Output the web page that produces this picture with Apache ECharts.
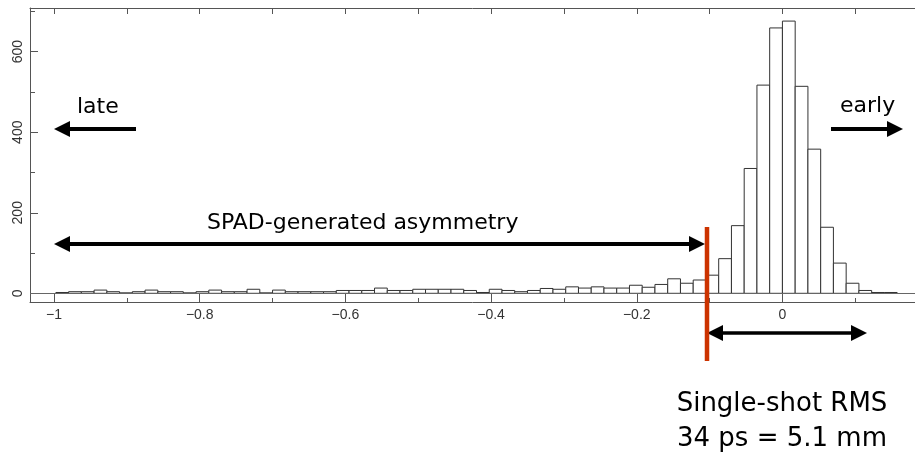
<!DOCTYPE html>
<html>
<head>
<meta charset="utf-8">
<title>SPAD timing histogram</title>
<script src="https://cdn.jsdelivr.net/npm/echarts@6/dist/echarts.min.js"></script>
<style>
  html, body { margin: 0; padding: 0; background: #fff; }
  #chart { width: 915px; height: 452px; }
</style>
</head>
<body>
<div id="chart"></div>
<script>
// counts per bin, left to right
const counts = [
  2, 4, 4, 8, 4, 1, 4, 8, 4, 4,
  1, 4, 8, 4, 4, 10, 1, 8, 4, 4,
  4, 4, 7, 7, 7, 13, 7, 7, 10, 10,
  10, 10, 7, 2, 10, 7, 4, 7, 12, 10,
  16, 13, 16, 13, 13, 20, 15, 22, 36, 25,
  33, 45, 86, 168, 310, 517, 659, 676, 514, 358,
  164, 75, 25, 7, 2, 2
];
const binStart = -0.9975;
const binWidth = 0.0175;

const xMajorTicks = [-1, -0.8, -0.6, -0.4, -0.2, 0];
const xMinorTicks = [-0.9, -0.7, -0.5, -0.3, -0.1, 0.1];
const yMajorTicks = [0, 200, 400, 600];
const yMinorTicks = [100, 300, 500, 700];

const AXIS_COLOR = '#555';
const RED = '#cc3300';
const X_MIN = -1.033, X_MAX = 0.182;
const Y_MIN = -21.6, Y_MAX = 708.5;

const rows = counts.map((c, i) => [binStart + i * binWidth, binStart + (i + 1) * binWidth, c]);

function xAxisBase(pos) {
  return {
    type: 'value', position: pos, min: X_MIN, max: X_MAX,
    axisLine: { show: false, onZero: false, lineStyle: { color: AXIS_COLOR, width: 1 } },
    axisTick: { show: false },
    axisLabel: { show: false },
    splitLine: { show: false }
  };
}
function yAxisBase() {
  return {
    type: 'value', position: 'left', min: Y_MIN, max: Y_MAX,
    axisLine: { show: false, onZero: false, lineStyle: { color: AXIS_COLOR, width: 1 } },
    axisTick: { show: false },
    axisLabel: { show: false },
    splitLine: { show: false }
  };
}

const xMain = xAxisBase('bottom');
xMain.axisLine.show = true;
xMain.axisTick = { show: true, inside: true, length: 8, customValues: xMajorTicks, lineStyle: { color: AXIS_COLOR } };
xMain.axisLabel = {
  show: true, customValues: xMajorTicks, margin: 6,
  fontSize: 14, fontFamily: 'Liberation Sans', color: '#333',
  formatter: v => String(v).replace('-', '\u2212')
};

const xMinor = xAxisBase('bottom');
xMinor.axisTick = { show: true, inside: true, length: 4, customValues: xMinorTicks, lineStyle: { color: AXIS_COLOR } };

const xTop = xAxisBase('top');
xTop.axisLine.show = true;
xTop.axisTick = { show: true, inside: true, length: 6, customValues: xMajorTicks.concat(xMinorTicks), lineStyle: { color: AXIS_COLOR } };

const yMain = yAxisBase();
yMain.axisLine.show = true;
yMain.axisTick = { show: true, inside: true, length: 8, customValues: yMajorTicks, lineStyle: { color: AXIS_COLOR } };
yMain.axisLabel = {
  show: true, customValues: yMajorTicks, rotate: 90, margin: 5,
  fontSize: 14, fontFamily: 'Liberation Sans', color: '#333'
};

const yMinor = yAxisBase();
yMinor.axisTick = { show: true, inside: true, length: 5, customValues: yMinorTicks, lineStyle: { color: AXIS_COLOR } };

// horizontal arrow, tip(s) drawn as filled triangles
function arrow(x1, x2, y, heads, width) {
  const len = 16, half = 8;
  const dir = x2 > x1 ? 1 : -1;
  const els = [];
  let a = x1, b = x2;
  if (heads === 'start' || heads === 'both') {
    els.push({ type: 'polygon', shape: { points: [[x1, y], [x1 + dir * len, y - half], [x1 + dir * len, y + half]] }, style: { fill: '#000' }, z: 10 });
    a = x1 + dir * (len - 2);
  }
  if (heads === 'end' || heads === 'both') {
    els.push({ type: 'polygon', shape: { points: [[x2, y], [x2 - dir * len, y - half], [x2 - dir * len, y + half]] }, style: { fill: '#000' }, z: 10 });
    b = x2 - dir * (len - 2);
  }
  els.push({ type: 'line', shape: { x1: a, y1: y, x2: b, y2: y }, style: { stroke: '#000', lineWidth: width }, z: 10 });
  return els;
}

function label(text, x, y, size, align) {
  return {
    type: 'text', x: x, y: y, z: 10,
    style: {
      text: text, fill: '#000', fontSize: size, fontFamily: 'DejaVu Sans',
      align: align, textAlign: align, verticalAlign: 'middle', textVerticalAlign: 'middle'
    }
  };
}

const graphics = [].concat(
  arrow(136, 54, 129, 'end', 4),
  arrow(831, 903, 129, 'end', 4),
  arrow(54, 705, 244, 'both', 4),
  arrow(707, 867, 333, 'both', 3.5),
  [
    { type: 'line', shape: { x1: 707, y1: 227, x2: 707, y2: 361 }, style: { stroke: RED, lineWidth: 4.5 }, z: 11 },
    label('late', 77, 107, 22, 'left'),
    label('early', 840, 106, 22, 'left'),
    label('SPAD-generated asymmetry', 207, 223, 22, 'left'),
    label('Single-shot RMS', 782, 404, 26, 'center'),
    label('34 ps = 5.1 mm', 782, 439, 26, 'center')
  ]
);

const chart = echarts.init(document.getElementById('chart'));
chart.setOption({
  animation: false,
  backgroundColor: '#fff',
  grid: { left: 30, right: 0, top: 8, bottom: 150 },
  xAxis: [xMain, xMinor, xTop],
  yAxis: [yMain, yMinor],
  series: [{
    type: 'custom',
    xAxisIndex: 0,
    yAxisIndex: 0,
    data: rows,
    encode: { x: [0, 1], y: 2 },
    renderItem: function (params, api) {
      const top = api.coord([api.value(0), api.value(2)]);
      const base = api.coord([api.value(1), 0]);
      return {
        type: 'rect',
        shape: { x: top[0], y: top[1], width: base[0] - top[0], height: base[1] - top[1] },
        style: { fill: '#fff', stroke: '#333', lineWidth: 1 }
      };
    },
    markLine: {
      silent: true,
      symbol: 'none',
      label: { show: false },
      lineStyle: { color: '#666', width: 1, type: 'solid' },
      data: [{ yAxis: 0 }]
    }
  }],
  graphic: graphics
});
</script>
</body>
</html>
